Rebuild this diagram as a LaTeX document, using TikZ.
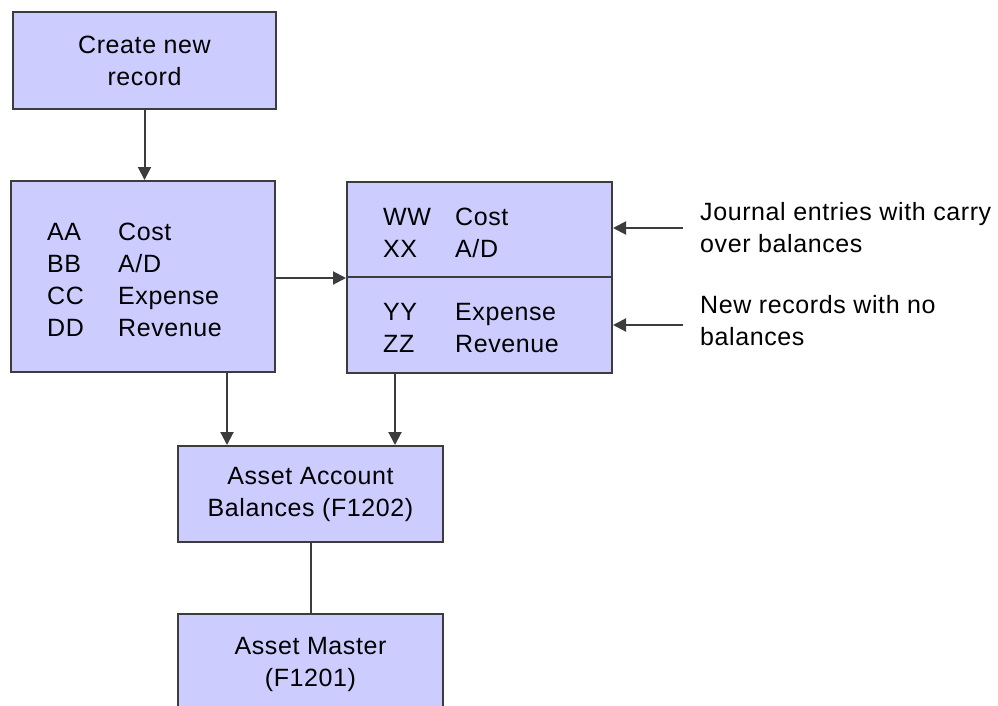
\documentclass[tikz,border=0pt]{standalone}
\usepackage{fontspec}
\setmainfont{Liberation Sans}[LetterSpace=2.4]
\usetikzlibrary{arrows.meta}
\definecolor{boxfill}{HTML}{CCCCFF}
\definecolor{edge}{HTML}{3C3C3C}
\begin{document}
\begin{tikzpicture}[x=1pt,y=-1pt,
  box/.style={draw=edge, line width=2pt, fill=boxfill, inner sep=0pt, align=center,
    font=\fontsize{25}{32}\selectfont},
  txt/.style={inner sep=0pt, align=left, anchor=west, font=\fontsize{25}{32}\selectfont},
  conn/.style={draw=edge, line width=2pt},
  arr/.style={conn, -{Triangle[length=13pt,width=13pt]}}]
\useasboundingbox (0,0) rectangle (998,705);
\clip (0,0) rectangle (998,705);
\node[box, minimum width=263pt, minimum height=97pt] (create) at (144.5,60.5) {Create new\\record};
\node[box, minimum width=264pt, minimum height=191pt] (left) at (143,276.5) {};
\node[txt] (lefttxt) at (47,280) {\makebox[71pt][l]{AA}Cost\\\makebox[71pt][l]{BB}A/D\\\makebox[71pt][l]{CC}Expense\\\makebox[71pt][l]{DD}Revenue};
\node[box, minimum width=265pt, minimum height=95pt] (rtop) at (479.5,229.5) {};
\node[box, minimum width=265pt, minimum height=96pt] (rbot) at (479.5,325) {};
\node[txt] (rtoptxt) at (383,233) {\makebox[72pt][l]{WW}Cost\\\makebox[72pt][l]{XX}A/D};
\node[txt] (rbottxt) at (383,328) {\makebox[72pt][l]{YY}Expense\\\makebox[72pt][l]{ZZ}Revenue};
\node[box, minimum width=265pt, minimum height=96pt] (bal) at (310.5,494) {Asset Account\\Balances (F1202)};
\node[box, minimum width=265pt, minimum height=100pt] (master) at (310.5,664) {Asset Master\\(F1201)};
\node[txt] (lab1) at (700,227.5) {Journal entries with carry\\over balances};
\node[txt] (lab2) at (700,321) {New records with no\\balances};
\coordinate (j1) at (683,228);
\coordinate (j2) at (683,325);
\draw[arr] (create.south) -- (create.south |- left.north);
\draw[arr] (left.east |- rtop.south) -- (rtop.south west);
\draw[arr] (j1) -- (j1 -| rtop.east);
\draw[arr] (j2) -- (j2 -| rbot.east);
\draw[arr] (227,372) coordinate (d1) (left.south -| d1) -- (bal.north -| d1);
\draw[arr] (395,373) coordinate (d2) (rbot.south -| d2) -- (bal.north -| d2);
\draw[conn] (bal.south) -- (master.north);
\end{tikzpicture}
\end{document}
